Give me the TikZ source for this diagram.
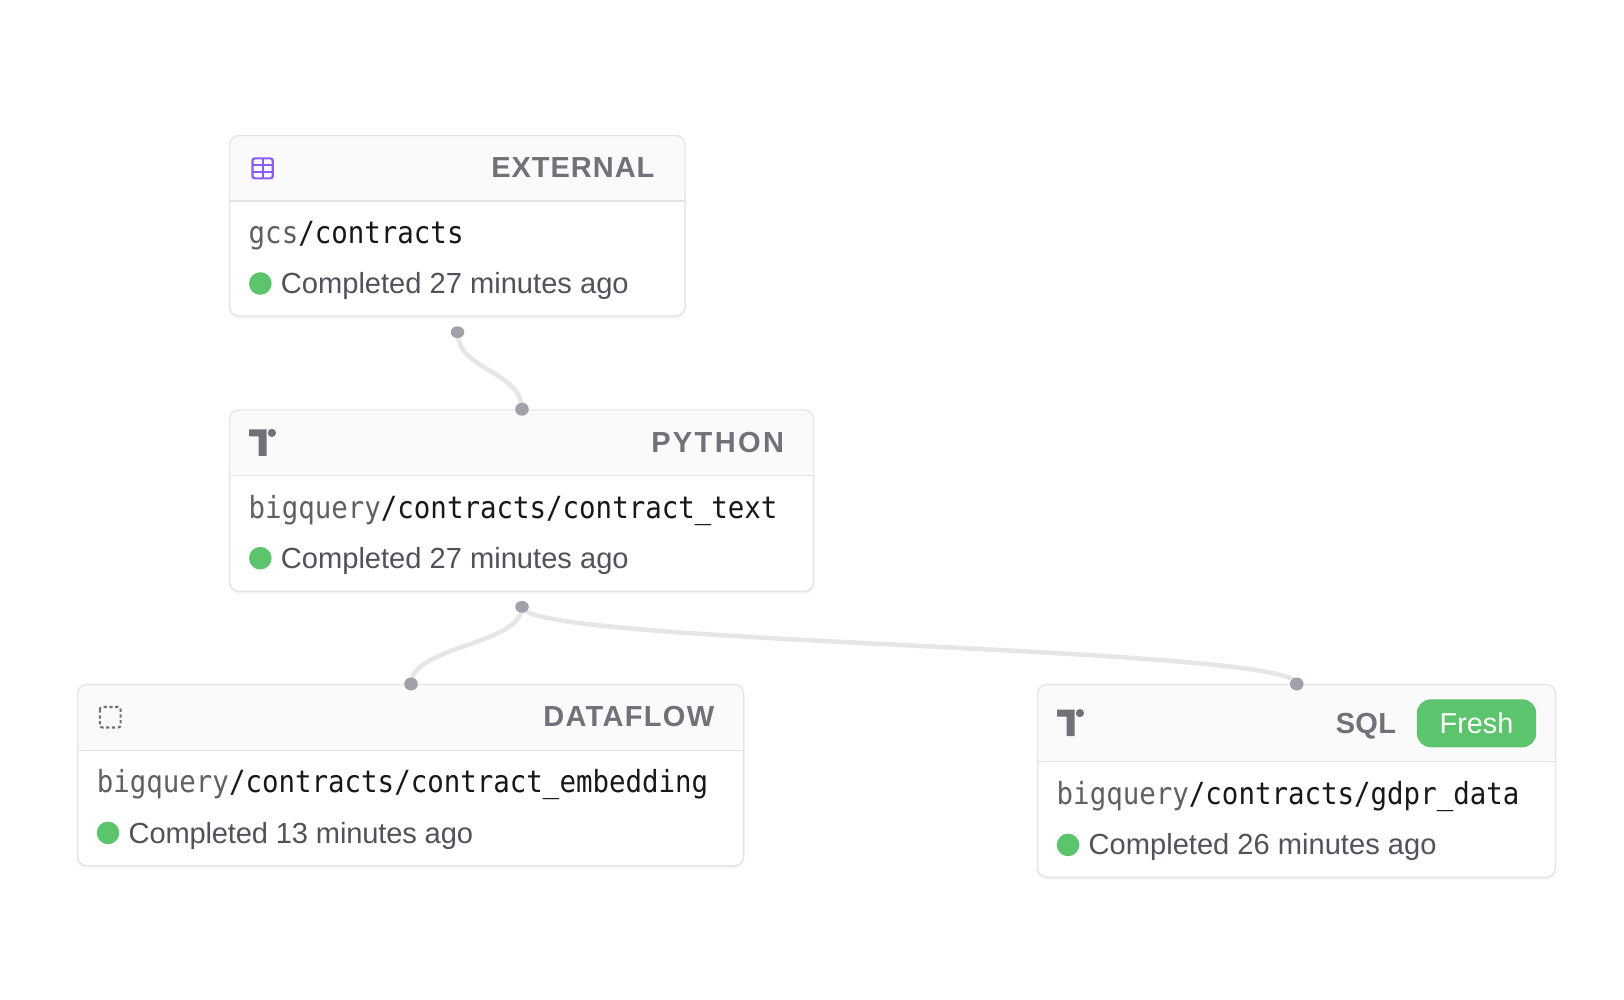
\documentclass[tikz,border=0pt]{standalone}
\usepackage{fontspec}
\usetikzlibrary{shapes.geometric}
\setmainfont{Liberation Sans}
\newfontfamily\monof[FakeStretch=0.9]{DejaVu Sans Mono}
\newfontfamily\headf{Liberation Sans}
\definecolor{cardline}{HTML}{E4E4E7}
\definecolor{headbg}{HTML}{FAFAFA}
\definecolor{headtx}{HTML}{71717A}
\definecolor{srcgray}{HTML}{5F5F66}
\definecolor{pathtx}{HTML}{18181B}
\definecolor{stattx}{HTML}{52525B}
\definecolor{okgreen}{HTML}{5CC46C}
\definecolor{dotgray}{HTML}{A1A1AA}
\definecolor{edgegray}{HTML}{E6E6E8}
\definecolor{tablepurple}{HTML}{8B5CF6}
\pgfdeclarelayer{paper}
\pgfdeclarelayer{edgelayer}
\pgfsetlayers{paper,edgelayer,main}
\tikzset{
  x=1pt,y=-1pt,
  cardbox/.style={draw=cardline,line width=1.3pt,fill=white,rounded corners=9pt,inner sep=0pt,minimum width=#1},
  cardshade/.style={fill=black,opacity=.025,rounded corners=10pt},
  headfill/.style={fill=headbg},
  rule/.style={draw=cardline,line width=1.3pt},
  kind/.style={anchor=base east,inner sep=0pt,text=headtx,font=\headf\bfseries\fontsize{29}{29}\selectfont},
  res/.style={anchor=base west,inner sep=0pt,font=\monof\fontsize{30.5}{30}\selectfont},
  stat/.style={anchor=base west,inner sep=0pt,text=stattx,font=\fontsize{29.1}{28}\selectfont},
  okdot/.style={circle,fill=okgreen,inner sep=0pt,minimum size=22.6pt},
  portin/.style={ellipse,fill=dotgray,inner sep=0pt,minimum width=13.6pt,minimum height=13pt},
  portout/.style={ellipse,fill=dotgray,inner sep=0pt,minimum width=13.6pt,minimum height=11.8pt},
  edge/.style={draw=edgegray,line width=4.5pt},
  pill/.style={fill=okgreen,rounded corners=14pt,inner sep=0pt,minimum width=119.4pt,minimum height=48pt},
}
% #1 name, #2 left, #3 top, #4 right, #5 bottom, #6 rule y
\newcommand{\cardshape}[6]{
  \fill[cardshade] (#2-1,#3+1) rectangle (#4+1,#5+3);
  \fill[cardshade] (#2,#3+1) rectangle (#4,#5+2);
  \path ({(#2+#4)/2},{(#3+#5)/2}) node[cardbox=#4-#2,minimum height={#5-#3}] (#1) {};
  \fill[headfill,rounded corners=9pt] (#2+.7,#6) -- (#2+.7,#3+.7) -- (#4-.7,#3+.7) -- (#4-.7,#6) -- cycle;
  \draw[rule] (#2,#6) -- (#4,#6);
}
\newcommand{\ticon}[2]{% left, top of glyph
  \fill[headtx] (#1,#2) -- (#1+17.5,#2) -- (#1+17.5,#2+26.5) -- (#1+9.5,#2+26.5) -- (#1+9.5,#2+7) -- (#1,#2+7) -- cycle;
  \fill[headtx] (#1+22.9,#2+3.6) circle (4.1);
}
\begin{document}
\begin{tikzpicture}
\begin{pgfonlayer}{paper}
\useasboundingbox[fill=white] (0,0) rectangle (1624,1000);
\end{pgfonlayer}

% cards
\cardshape{ext}{229.7}{135.7}{685}{316}{201}
\cardshape{py}{229.7}{410}{813.5}{591.3}{475.7}
\cardshape{df}{77.7}{684.6}{743.6}{865.7}{750.2}
\cardshape{sq}{1037.7}{684.6}{1555.4}{877.2}{761.3}

% ports
\node[portout] (extout) at (457.5,332.2) {};
\node[portin] (pyin) at (522,409.2) {};
\node[portout] (pyout) at (522,606.8) {};
\node[portin] (dfin) at (411,684) {};
\node[portin] (sqin) at (1296.7,684) {};

% connectors
\begin{pgfonlayer}{edgelayer}
\draw[edge] (extout.center) .. controls +(0,38) and +(0,-38) .. (pyin.center);
\draw[edge] (pyout.center) .. controls +(0,38) and +(0,-38) .. (dfin.center);
\draw[edge] (pyout.center) .. controls +(0,38) and +(0,-38) .. (sqin.center);
\end{pgfonlayer}

% external
\draw[tablepurple,line width=2.2pt,rounded corners=2.5pt] (252.4,158.4) rectangle (272.8,178.4);
\draw[tablepurple,line width=2.2pt] (262.6,158.4) -- (262.6,178.4) (252.4,165.2) -- (272.8,165.2) (252.4,171.8) -- (272.8,171.8);
\node[kind] (extk) at (654.6,177.6) {\addfontfeature{LetterSpace=3.3}EXTERNAL};
\node[res] (extr) at (248.5,243.5) {{\color{srcgray}gcs}{\color{pathtx}/contracts}};
\node[okdot] (extd) at (260.3,283.5) {};
\node[stat] (exts) at (280.7,293.8) {Completed 27 minutes ago};

% python
\ticon{249}{429.3}
\node[kind] (pyk) at (784.2,452.8) {\addfontfeature{LetterSpace=8.2}PYTHON};
\node[res] (pyr) at (248.5,518) {{\color{srcgray}bigquery}{\color{pathtx}/contracts/contract\_text}};
\node[okdot] (pyd) at (260.3,558.2) {};
\node[stat] (pys) at (280.7,568.5) {Completed 27 minutes ago};

% dataflow
\draw[headtx,line width=2.1pt,dash pattern=on 3.2pt off 2.6pt,rounded corners=2.5pt] (99.8,707) rectangle (120.6,727.5);
\node[kind] (dfk) at (714.4,726.8) {\addfontfeature{LetterSpace=4.6}DATAFLOW};
\node[res] (dfr) at (96.6,792) {{\color{srcgray}bigquery}{\color{pathtx}/contracts/contract\_embedding}};
\node[okdot] (dfd) at (108,832.9) {};
\node[stat] (dfs) at (128.5,843.2) {\addfontfeature{LetterSpace=-0.6}Completed 13 minutes ago};

% sql
\ticon{1057}{709.5}
\node[kind] (sqk) at (1396.2,733) {\addfontfeature{LetterSpace=1}SQL};
\node[pill] (fresh) at (1476.5,723.3) {};
\node[anchor=base,inner sep=0pt,text=white,font=\fontsize{28.8}{28}\selectfont] (freshl) at (fresh.center |- 0,733) {Fresh};
\node[res] (sqr) at (1056.5,804.8) {{\color{srcgray}bigquery}{\color{pathtx}/contracts/gdpr\_data}};
\node[okdot] (sqd) at (1068,844.9) {};
\node[stat] (sqs) at (1088.5,854.5) {Completed 26 minutes ago};
\end{tikzpicture}
\end{document}
